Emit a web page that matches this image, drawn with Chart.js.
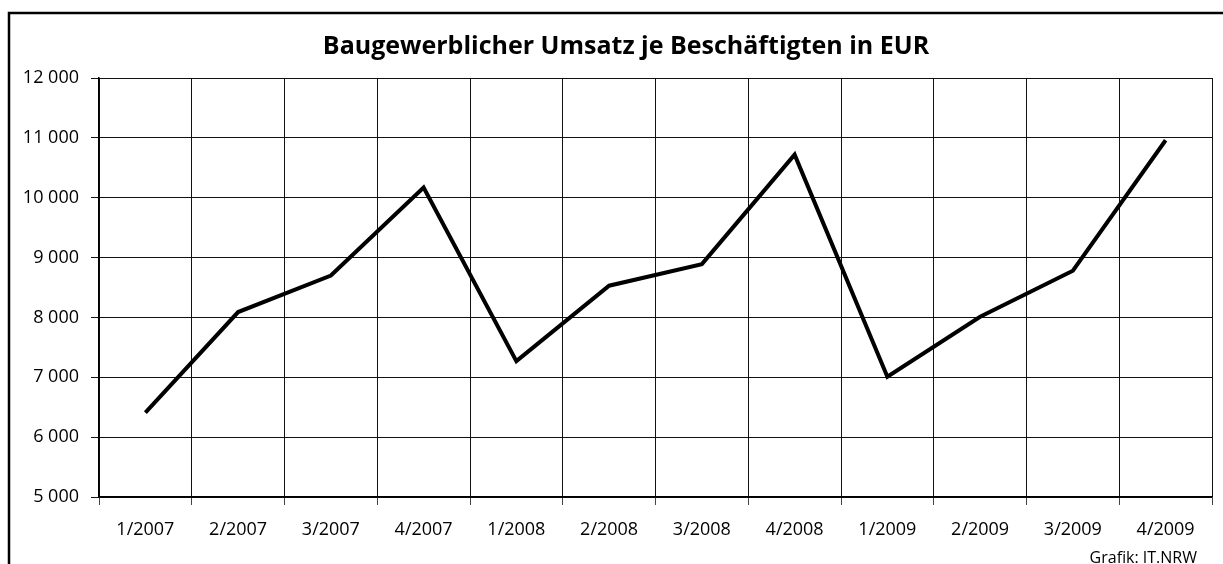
<!DOCTYPE html>
<html>
<head>
<meta charset="utf-8">
<script src="https://cdn.jsdelivr.net/npm/chart.js@4"></script>
<style>
  html, body { margin: 0; padding: 0; background: #fff; }
  #wrap { width: 1223px; height: 564px; }
</style>
</head>
<body>
<div id="wrap"><canvas id="umsatzChart"></canvas></div>
<script>
const quarters = ['1/2007', '2/2007', '3/2007', '4/2007', '1/2008', '2/2008',
                  '3/2008', '4/2008', '1/2009', '2/2009', '3/2009', '4/2009'];
const umsatz = [6410, 8090, 8700, 10170, 7270, 8530, 8890, 10720, 7010, 8010, 8780, 10960];
const yTicks = [5000, 6000, 7000, 8000, 9000, 10000, 11000, 12000];
const titleText = 'Baugewerblicher Umsatz je Beschäftigten in EUR';
const sourceText = 'Grafik: IT.NRW';

const FONT = '"Open Sans", "DejaVu Sans", sans-serif';

// frame, title and source note
const frame = {
    id: 'frame',
    afterDraw(chart) {
        const c = chart.ctx;
        c.save();
        c.strokeStyle = '#000';
        c.lineWidth = 2.5;
        c.strokeRect(9, 13, 1240, 600);
        c.fillStyle = '#000';
        c.font = 'bold 25px ' + FONT;
        c.textAlign = 'center';
        c.textBaseline = 'middle';
        c.fillText(titleText, 626, 47);
        c.font = '16px ' + FONT;
        c.textAlign = 'right';
        c.fillText(sourceText, 1197, 558);
        c.restore();
    }
};

new Chart(document.getElementById('umsatzChart'), {
    type: 'line',
    data: {
        labels: quarters,
        datasets: [{
            data: umsatz,
            borderColor: '#000',
            borderWidth: 4,
            pointRadius: 0,
            tension: 0,
            borderJoinStyle: 'miter'
        }]
    },
    options: {
        responsive: true,
        maintainAspectRatio: false,
        animation: false,
        layout: { padding: { top: 78, right: 11, bottom: 0, left: 0 } },
        plugins: {
            legend: { display: false },
            tooltip: { enabled: false }
        },
        scales: {
            x: {
                offset: true,
                afterFit(scale) { scale.height = 67; },
                grid: {
                    offset: true,
                    color: '#111',
                    lineWidth: 1,
                    tickLength: 8,
                    tickColor: '#444'
                },
                border: { color: '#000', width: 1.5 },
                ticks: {
                    color: '#000',
                    padding: 14,
                    maxRotation: 0,
                    font: { family: FONT, size: 18 }
                }
            },
            y: {
                min: 5000,
                max: 12000,
                afterFit(scale) { scale.width = 99; },
                afterBuildTicks(scale) {
                    scale.ticks = yTicks.map(v => ({ value: v }));
                },
                grid: {
                    color: '#111',
                    lineWidth: 1,
                    tickLength: 8,
                    tickColor: '#111'
                },
                border: { color: '#000', width: 1.5 },
                ticks: {
                    color: '#000',
                    padding: 12,
                    font: { family: FONT, size: 18 },
                    callback: v => String(v).replace(/\B(?=(\d{3})+(?!\d))/g, ' ')
                }
            }
        }
    },
    plugins: [frame]
});
</script>
</body>
</html>
